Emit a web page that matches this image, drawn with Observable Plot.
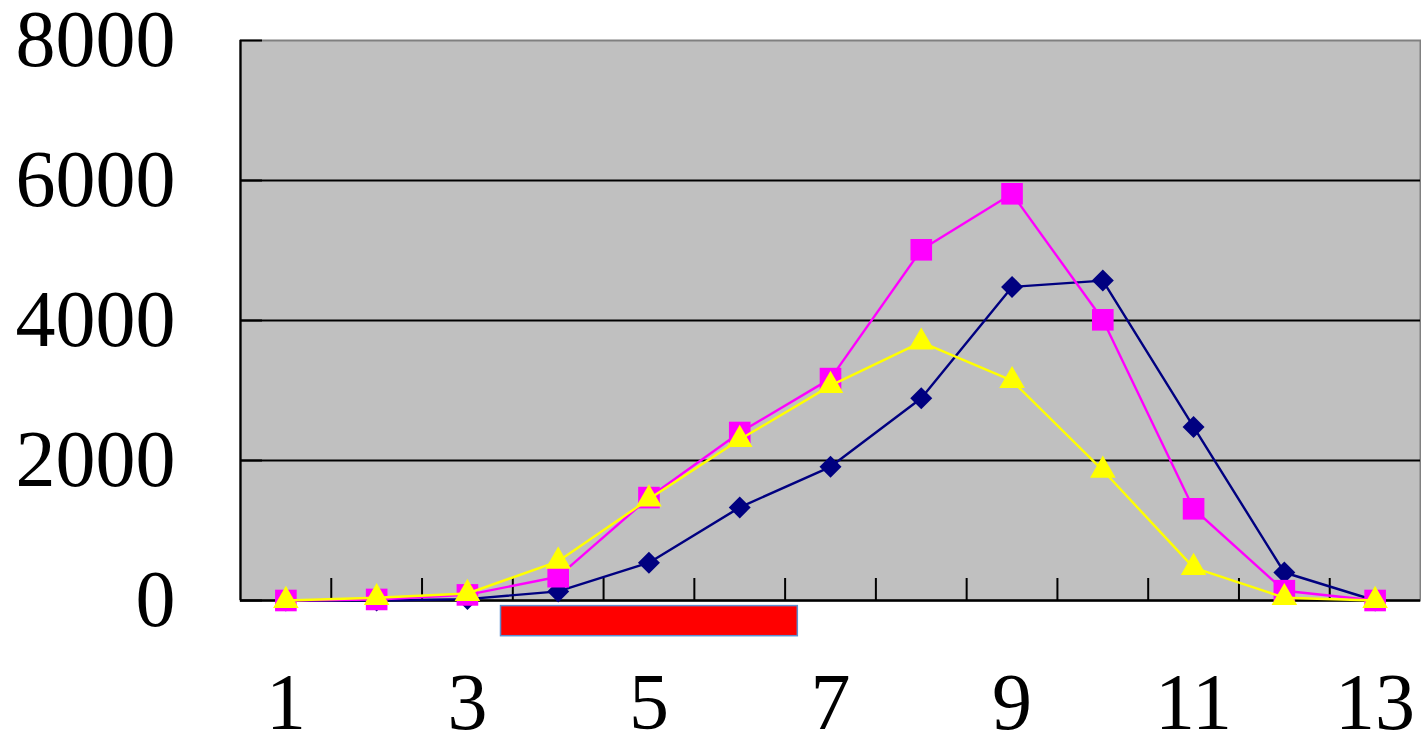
<!DOCTYPE html>
<html>
<head>
<meta charset="utf-8">
<script src="https://cdn.jsdelivr.net/npm/d3@7"></script>
<script src="https://cdn.jsdelivr.net/npm/@observablehq/plot@0.6"></script>
<style>
  html, body { margin: 0; padding: 0; background: #fff; overflow: hidden; }
  svg { display: block; overflow: visible; }
</style>
</head>
<body>
<div id="chart"></div>
<script>
const categories = [1, 2, 3, 4, 5, 6, 7, 8, 9, 10, 11, 12, 13];
const navySeries = [0, 0, 20, 130, 540, 1330, 1910, 2890, 4480, 4570, 2480, 400, 0];
const magentaSeries = [0, 15, 80, 340, 1470, 2400, 3170, 5010, 5810, 4010, 1310, 140, 0];
const yellowSeries = [0, 40, 100, 560, 1450, 2300, 3070, 3690, 3140, 1860, 470, 40, 0];
const xTickLabels = [1, 3, 5, 7, 9, 11, 13];
const yTickValues = [0, 2000, 4000, 6000, 8000];
const gridValues = [2000, 4000, 6000];
const highlight = [{x1: 3.37, x2: 6.64, y1: -80, y2: -510}];

const toRows = (vals) => categories.map((c, i) => ({x: c, y: vals[i]}));
const navy = toRows(navySeries);
const magenta = toRows(magentaSeries);
const yellow = toRows(yellowSeries);
const boundaries = categories.slice(1).map(c => c - 0.5);

const W = 1421, H = 739;
const mL = 240, mR = 1, mT = 40, mB = 139;
const plotW = W - mL - mR, plotH = H - mT - mB;
const font = "'Liberation Serif', 'Times New Roman', serif";

const chart = Plot.plot({
  width: W,
  height: H,
  marginLeft: mL,
  marginRight: mR,
  marginTop: mT,
  marginBottom: mB,
  style: {fontFamily: font, background: "white", color: "black", overflow: "visible"},
  x: {type: "linear", domain: [categories[0] - 0.5, categories[categories.length - 1] + 0.5]},
  y: {domain: [yTickValues[0], yTickValues[yTickValues.length - 1]]},
  marks: [
    Plot.frame({fill: "#c0c0c0", stroke: "#808080", strokeWidth: 2}),
    Plot.ruleY(gridValues, {stroke: "black", strokeWidth: 2}),
    Plot.ruleX(boundaries, {x: d => d, insetTop: plotH - 22, stroke: "black", strokeWidth: 2}),
    Plot.ruleY(yTickValues, {y: d => d, insetRight: plotW - 22, stroke: "black", strokeWidth: 2}),
    Plot.ruleX([categories[0] - 0.5], {stroke: "black", strokeWidth: 2.2}),
    Plot.ruleY([0], {stroke: "black", strokeWidth: 2.4}),
    Plot.axisY({ticks: yTickValues, tickSize: 0, tickPadding: 65, fontSize: 80, tickFormat: d => String(d), anchor: "left", label: null}),
    Plot.axisX({ticks: xTickLabels, tickSize: 0, tickPadding: 72, fontSize: 80, tickFormat: d => String(d), anchor: "bottom", label: null}),
    Plot.line(navy, {x: "x", y: "y", stroke: "#000080", strokeWidth: 2.4}),
    Plot.dot(navy, {x: "x", y: "y", symbol: "diamond2", r: 9.9, fill: "#000080", stroke: "none"}),
    Plot.line(magenta, {x: "x", y: "y", stroke: "#ff00ff", strokeWidth: 2.4}),
    Plot.dot(magenta, {x: "x", y: "y", symbol: "square", r: 12.2, fill: "#ff00ff", stroke: "none"}),
    Plot.line(yellow, {x: "x", y: "y", stroke: "#ffff00", strokeWidth: 2.4}),
    Plot.dot(yellow, {x: "x", y: "y", symbol: "triangle", r: 9.5, fill: "#ffff00", stroke: "none"}),
    Plot.rect(highlight, {x1: "x1", x2: "x2", y1: "y1", y2: "y2", fill: "#ff0000", stroke: "#5b8fd0", strokeWidth: 1.5})
  ]
});
document.getElementById("chart").append(chart);
</script>
</body>
</html>
